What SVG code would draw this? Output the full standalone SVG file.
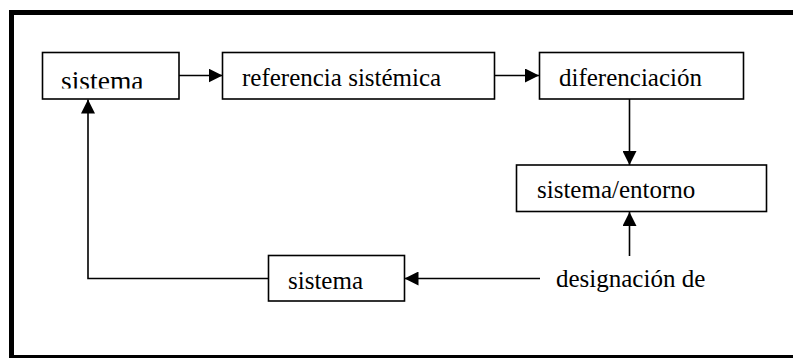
<svg xmlns="http://www.w3.org/2000/svg" width="793" height="358" viewBox="0 0 793 358">
<style>
.box{fill:#fff;stroke:#000;stroke-width:1.6}
.con{fill:none;stroke:#000;stroke-width:1.6}
</style>
<defs>
<marker id="ah" viewBox="0 0 14 14" refX="14" refY="7" markerWidth="14" markerHeight="14" markerUnits="userSpaceOnUse" orient="auto">
<path d="M0,0 L14,7 L0,14 Z" fill="#000"/>
</marker>
<clipPath id="clip1"><rect x="43" y="53" width="135" height="35.5"/></clipPath>
</defs>
<rect x="11.5" y="12.5" width="800" height="345" fill="#fff" stroke="#000" stroke-width="5"/>
<g id="connectors">
<line class="con" x1="179" y1="75.5" x2="222.5" y2="75.5" marker-end="url(#ah)"/>
<line class="con" x1="494.5" y1="75.5" x2="539" y2="75.5" marker-end="url(#ah)"/>
<line class="con" x1="629.5" y1="99" x2="629.5" y2="165" marker-end="url(#ah)"/>
<line class="con" x1="629.5" y1="256" x2="629.5" y2="212" marker-end="url(#ah)"/>
<line class="con" x1="540" y1="278.5" x2="404.5" y2="278.5" marker-end="url(#ah)"/>
<polyline class="con" points="268.5,278.5 88,278.5 88,99.5" marker-end="url(#ah)"/>
</g>
<g font-family="Liberation Serif, Times New Roman, serif" font-size="25" fill="#000">
<g id="n1">
<rect class="box" x="42.5" y="52.5" width="136.5" height="46.5"/>
<text x="61" y="90" font-size="27.5" clip-path="url(#clip1)">sistema</text>
</g>
<g id="n2">
<rect class="box" x="222.5" y="52.5" width="272" height="46.5"/>
<text x="242" y="86">referencia sistémica</text>
</g>
<g id="n3">
<rect class="box" x="539.5" y="52.5" width="204" height="46.5"/>
<text x="559" y="86">diferenciación</text>
</g>
<g id="n4">
<rect class="box" x="516.5" y="165" width="250" height="46.5"/>
<text x="537" y="198">sistema/entorno</text>
</g>
<g id="n5">
<text x="556" y="287">designación de</text>
</g>
<g id="n6">
<rect class="box" x="268.5" y="255.5" width="136" height="45.5"/>
<text x="288" y="289">sistema</text>
</g>
</g>
</svg>
